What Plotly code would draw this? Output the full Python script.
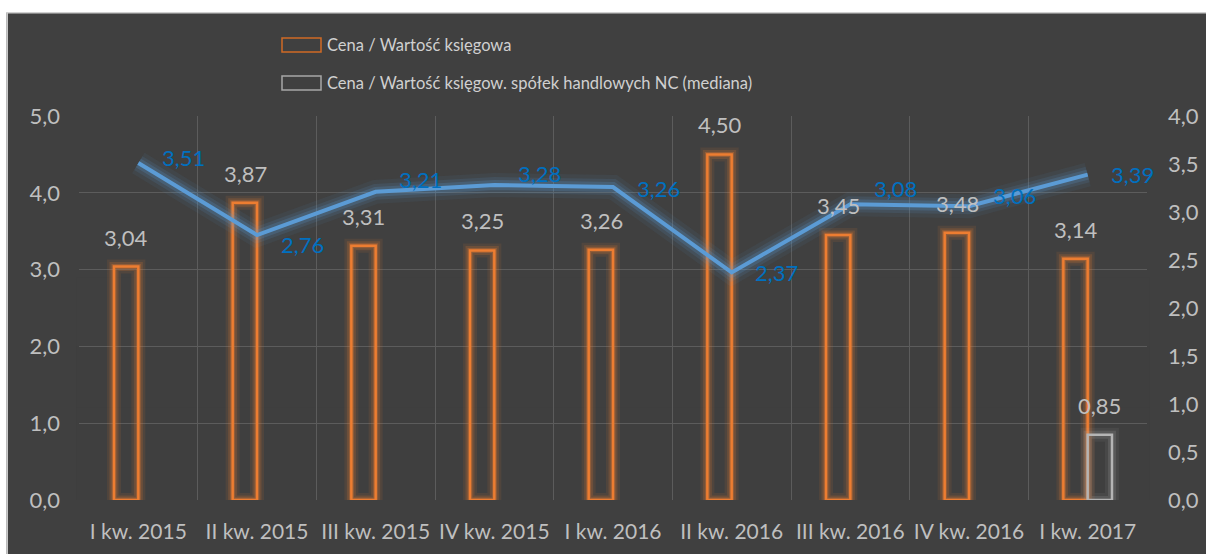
import plotly.graph_objects as go

# ---------------- data ----------------
categories = ["I kw. 2015", "II kw. 2015", "III kw. 2015", "IV kw. 2015", "I kw. 2016",
              "II kw. 2016", "III kw. 2016", "IV kw. 2016", "I kw. 2017"]
pbv = [3.04, 3.87, 3.31, 3.25, 3.26, 4.50, 3.45, 3.48, 3.14]
pbv_nc_median = [None, None, None, None, None, None, None, None, 0.85]
line_vals = [3.51, 2.76, 3.21, 3.28, 3.26, 2.37, 3.08, 3.06, 3.39]

legend_names = ["Cena / Wartość księgowa",
                "Cena / Wartość księgow. spółek handlowych NC (mediana)"]

# label vertical nudges (pixels) for the blue line labels
line_label_dy = [6, -9, 12, 12, -1, 0, 16, 11, 0]

# ---------------- styles ----------------
BG = "#404040"
GRID = "#5c5c5c"
ORANGE = "#ed7d31"
GRAYBAR = "#b4b4b4"
BLUE = "#5b9bd5"
BLUE_TXT = "#0070c0"
TXT = "#bfbfbf"
FONT = "Lato, 'Open Sans', sans-serif"

W, H = 1206, 554
ML, MR, MT, MB = 79, 59, 116, 54
PW, PH = W - ML - MR, H - MT - MB


def px(x):
    return (x - ML) / PW


def py(y):
    return (H - MB - y) / PH


def fmt(v):
    return f"{v:.2f}".replace(".", ",")


fig = go.Figure()

BW = 0.205
# glow layers + outline for orange bars
for lw, col in [(14, "rgba(237,125,49,0.10)"), (9, "rgba(237,125,49,0.18)"),
                (5, "rgba(237,125,49,0.30)"), (2.5, ORANGE)]:
    fig.add_trace(go.Bar(x=categories, y=pbv, offset=-BW, width=BW,
                         marker=dict(color="rgba(0,0,0,0)", line=dict(color=col, width=lw)),
                         showlegend=False, hoverinfo="skip" if lw != 2.5 else None,
                         name=legend_names[0]))
for lw, col in [(14, "rgba(180,180,180,0.08)"), (8, "rgba(180,180,180,0.16)"), (2.5, GRAYBAR)]:
    fig.add_trace(go.Bar(x=categories, y=pbv_nc_median, offset=0.0, width=BW,
                         marker=dict(color="rgba(0,0,0,0)", line=dict(color=col, width=lw)),
                         showlegend=False, hoverinfo="skip" if lw != 2.5 else None,
                         name=legend_names[1]))

# line with glow, secondary axis
for lw, col in [(24, "rgba(91,155,213,0.07)"), (16, "rgba(91,155,213,0.12)"),
                (10, "rgba(91,155,213,0.20)"), (4, BLUE)]:
    fig.add_trace(go.Scatter(x=categories, y=line_vals, mode="lines", yaxis="y2",
                             line=dict(color=col, width=lw), showlegend=False,
                             hoverinfo="skip" if lw != 4 else None, name="P/BV"))

annotations = []
# bar labels
for c, v in zip(categories, pbv):
    annotations.append(dict(x=c, y=v, xref="x", yref="y", text=fmt(v), showarrow=False,
                            xshift=-12, yshift=14, yanchor="bottom",
                            font=dict(family=FONT, size=22, color=TXT)))
for c, v in zip(categories, pbv_nc_median):
    if v is None:
        continue
    annotations.append(dict(x=c, y=v, xref="x", yref="y", text=fmt(v), showarrow=False,
                            xshift=12, yshift=14, yanchor="bottom",
                            font=dict(family=FONT, size=22, color=TXT)))
# line labels
for c, v, dy in zip(categories, line_vals, line_label_dy):
    annotations.append(dict(x=c, y=v, xref="x", yref="y2", text=fmt(v), showarrow=False,
                            xshift=45, yshift=dy,
                            font=dict(family=FONT, size=22, color=BLUE_TXT)))

# manual legend
leg_rows = [(45, "#d06a25"), (83, "#a6a6a6")]
shapes = []
for (cy, col), name in zip(leg_rows, legend_names):
    shapes.append(dict(type="rect", xref="paper", yref="paper",
                       x0=px(282), x1=px(321), y0=py(cy - 7), y1=py(cy + 7),
                       line=dict(color=col, width=1.5), fillcolor="rgba(0,0,0,0)"))
    annotations.append(dict(x=px(325), y=py(cy), xref="paper", yref="paper", text=name,
                            showarrow=False, xanchor="left", yanchor="middle",
                            font=dict(family=FONT, size=16.5, color="#d0d0d0")))

# fade of grid toward the bottom
for top, op in [(2.9, 0.22), (2.0, 0.30), (1.2, 0.35)]:
    shapes.append(dict(type="rect", xref="paper", yref="y", x0=-0.002, x1=1.002, y0=0, y1=top,
                       line=dict(width=0), fillcolor=BG, opacity=op, layer="between"))

# white frame outside the dark chart area
shapes.append(dict(type="rect", xref="paper", yref="paper", x0=px(-5), x1=px(W + 5),
                   y0=py(12.5), y1=py(-5), line=dict(width=0), fillcolor="white", layer="above"))
shapes.append(dict(type="rect", xref="paper", yref="paper", x0=px(-5), x1=px(6.5),
                   y0=py(H + 5), y1=py(-5), line=dict(width=0), fillcolor="white", layer="above"))
shapes.append(dict(type="line", xref="paper", yref="paper", x0=px(7), x1=px(W + 5),
                   y0=py(12.8), y1=py(12.8), line=dict(color="#d0d0d0", width=1.5), layer="above"))
shapes.append(dict(type="line", xref="paper", yref="paper", x0=px(7.2), x1=px(7.2),
                   y0=py(12.8), y1=py(H + 5), line=dict(color="#d0d0d0", width=1.5), layer="above"))

fig.update_layout(
    width=W, height=H,
    margin=dict(l=ML, r=MR, t=MT, b=MB, autoexpand=False),
    paper_bgcolor=BG, plot_bgcolor=BG,
    barmode="overlay",
    separators=", ",
    showlegend=False,
    font=dict(family=FONT, color=TXT),
    xaxis=dict(type="category", tickson="boundaries", showgrid=True, gridcolor=GRID,
               gridwidth=1.3, ticks="", showline=False, zeroline=False, tickangle=0,
               range=[-0.5, 8.5], tickfont=dict(family=FONT, size=21, color=TXT),
               ticklabelstandoff=17),
    yaxis=dict(range=[0, 5], dtick=1, tickformat=".1f", showgrid=True, gridcolor=GRID,
               gridwidth=1.3, zeroline=False, showline=False, ticks="",
               tickfont=dict(family=FONT, size=22, color=TXT), ticklabelstandoff=18),
    yaxis2=dict(range=[0, 4], dtick=0.5, tickformat=".1f", overlaying="y", side="right",
                showgrid=False, zeroline=False, showline=False, ticks="",
                tickfont=dict(family=FONT, size=22, color=TXT), ticklabelstandoff=20),
    annotations=annotations,
    shapes=shapes,
)

fig.write_html("out.html", config={"displayModeBar": False},
               post_script="document.body.style.margin='0px';document.body.style.padding='0px';")
